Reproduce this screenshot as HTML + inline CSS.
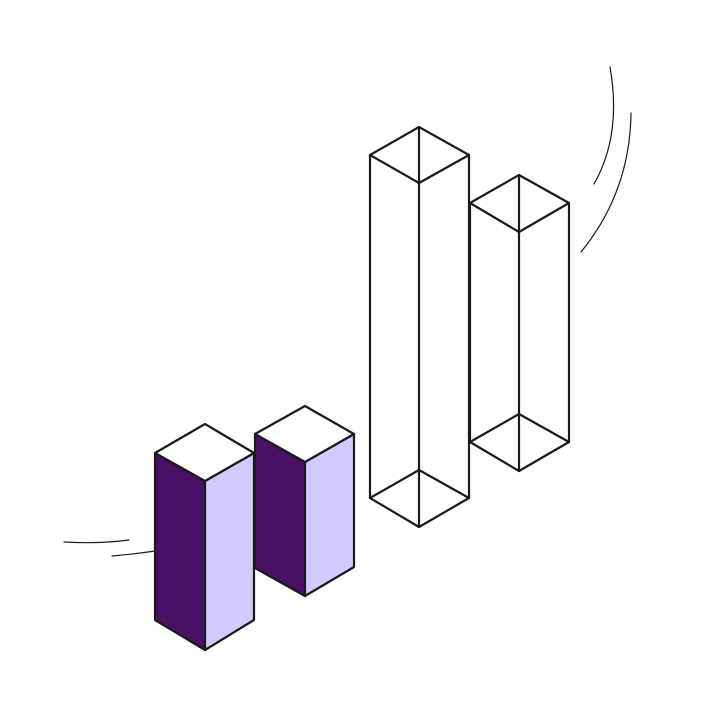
<!DOCTYPE html>
<html><head><style>html,body{margin:0;padding:0;background:#fff}</style></head>
<body>
<svg width="720" height="720" viewBox="0 0 720 720" xmlns="http://www.w3.org/2000/svg">
<g fill="none" stroke="#1a1a1a" stroke-width="1.2" stroke-linecap="round">
<path d="M610 67 Q622 135 594 184"/>
<path d="M631 113 Q630 192 581 252"/>
<path d="M64 542 Q100 544 129 540"/>
<path d="M112 556 Q135 554 155 551"/>
</g>
<g stroke="#1a1a1a" stroke-width="2.2" stroke-linejoin="round" stroke-linecap="round">
<!-- box 1 -->
<path d="M155 453 L205 481 L205 650 L155 620 Z" fill="#4a1066"/>
<path d="M205 481 L254 453 L254 620 L205 650 Z" fill="#d4c9ff"/>
<path d="M155 453 L205 424 L254 453 L205 481 Z" fill="#fff"/>
<!-- box 2 -->
<path d="M255 434 L305 462 L305 596 L255 568 Z" fill="#4a1066"/>
<path d="M305 462 L354 434 L354 567 L305 596 Z" fill="#d4c9ff"/>
<path d="M255 434 L305 406 L354 434 L305 462 Z" fill="#fff"/>
</g>
<g fill="none" stroke="#1a1a1a" stroke-width="2.2" stroke-linejoin="round" stroke-linecap="round">
<path d="M370 155 L419 127 L469 155 L419 183 Z"/>
<path d="M370 498 L419 470 L469 498 L419 527 Z"/>
<path d="M370 155 V498 M469 155 V498 M419 127 V527"/>
<path d="M470 203 L519 175 L569 203 L519 232 Z"/>
<path d="M470 442 L519 414 L569 442 L519 471 Z"/>
<path d="M470 203 V442 M569 203 V442 M519 175 V471"/>
</g>
</svg>
</body></html>
